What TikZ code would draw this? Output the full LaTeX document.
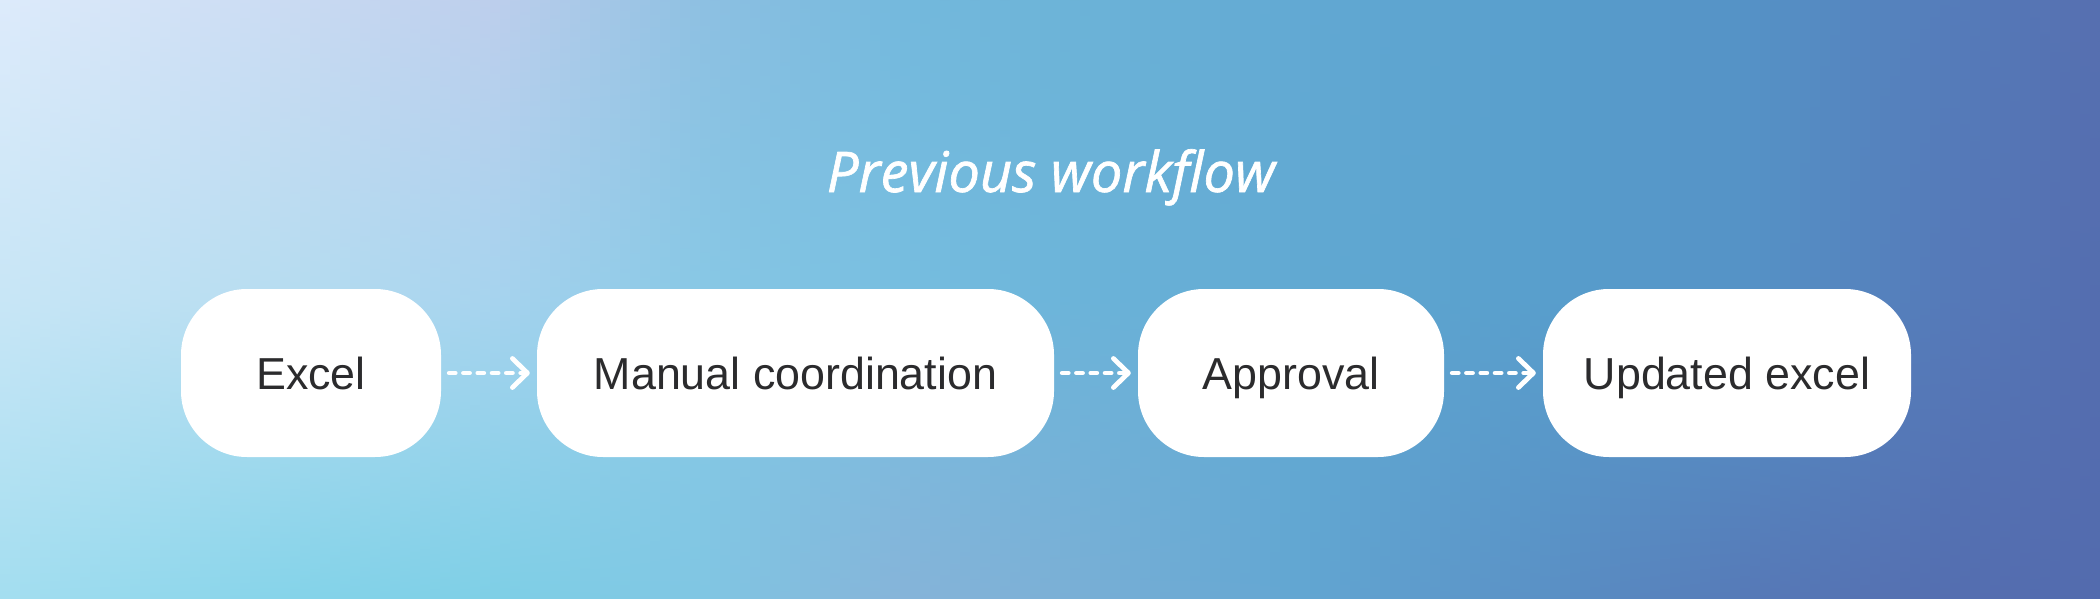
\documentclass[tikz,border=0pt]{standalone}
\usepackage{fontspec}
\setmainfont{Liberation Sans}
\newfontfamily\titlefont{Open Sans}[ItalicFeatures={FakeBold=1.2}]
\usetikzlibrary{arrows.meta}
\definecolor{txt}{HTML}{2B2B2D}
% background key columns: t = top, m = middle, b = bottom
\definecolor{c0t}{HTML}{DDEBFB}\definecolor{c0m}{HTML}{C8E6F6}\definecolor{c0b}{HTML}{A4DEF0}
\definecolor{c1t}{HTML}{C9DAF2}\definecolor{c1m}{HTML}{B5DCF0}\definecolor{c1b}{HTML}{84D3E9}
\definecolor{c2t}{HTML}{BCCEEC}\definecolor{c2m}{HTML}{A6D3EE}\definecolor{c2b}{HTML}{7ECFE6}
\definecolor{c3t}{HTML}{8EC0E2}\definecolor{c3m}{HTML}{88C8E5}\definecolor{c3b}{HTML}{80C6E3}
\definecolor{c4t}{HTML}{74B9DD}\definecolor{c4m}{HTML}{77BEE0}\definecolor{c4b}{HTML}{86B4D9}
\definecolor{c5t}{HTML}{6DB4D8}\definecolor{c5m}{HTML}{6DB5DA}\definecolor{c5b}{HTML}{7CB0D6}
\definecolor{c6t}{HTML}{62A9D3}\definecolor{c6m}{HTML}{61A9D2}\definecolor{c6b}{HTML}{62A6D2}
\definecolor{c7t}{HTML}{589ECC}\definecolor{c7m}{HTML}{589ECC}\definecolor{c7b}{HTML}{5A90C5}
\definecolor{c8t}{HTML}{5592C6}\definecolor{c8m}{HTML}{5592C6}\definecolor{c8b}{HTML}{5679B7}
\definecolor{c9t}{HTML}{557CBA}\definecolor{c9m}{HTML}{5579B8}\definecolor{c9b}{HTML}{546EB0}
\definecolor{c10t}{HTML}{566FB0}\definecolor{c10m}{HTML}{546DAF}\definecolor{c10b}{HTML}{536BAE}
\begin{document}
\begin{tikzpicture}[x=1pt,y=-1pt,
  stepbox/.style={fill=white, rounded corners=66pt, minimum height=168pt, inner sep=0pt,
    text=txt, font=\fontsize{44.8}{50}\selectfont, text height=32.1pt, text depth=0pt},
  flow/.style={draw=white, line width=4.8pt, line cap=round, dash pattern=on 6pt off 8.3pt,
    -{Straight Barb[length=15pt,width=29pt,round]}, shorten <=8pt, shorten >=7pt},
  titletext/.style={text=white, font=\titlefont\itshape\fontsize{56}{62}\selectfont, inner sep=0pt}]
\useasboundingbox (0,0) rectangle (2100,599);
% background gradient built from narrow vertically shaded strips
\foreach \xa/\xb/\i/\j in {0/300/0/1,300/500/1/2,500/700/2/3,700/900/3/4,900/1050/4/5,
    1050/1300/5/6,1300/1550/6/7,1550/1750/7/8,1750/1950/8/9,1950/2100/9/10}{
  \pgfmathtruncatemacro\n{(\xb-\xa)/10}
  \foreach \k in {1,...,\n}{
    \pgfmathsetmacro\p{100-100*(\k-0.5)/\n}
    \colorlet{bgT}{c\i t!\p!c\j t}
    \colorlet{bgM}{c\i m!\p!c\j m}
    \colorlet{bgB}{c\i b!\p!c\j b}
    \pgfmathsetmacro\xs{\xa+10*(\k-1)}
    \fill[top color=bgT, bottom color=bgB, middle color=bgM] (\xs,0) rectangle (\xs+11,599);
  }
}
\node[titletext, anchor=base] (title) at (1051,192) {Previous workflow};
\node[stepbox, minimum width=260pt] (excel) at (311,373) {Excel};
\node[stepbox, minimum width=517pt] (manual) at (795.5,373) {Manual coordination};
\node[stepbox, minimum width=306pt] (approval) at (1291,373) {Approval};
\node[stepbox, minimum width=368pt] (updated) at (1727,373) {Updated excel};
\draw[flow] (excel) -- (manual);
\draw[flow] (manual) -- (approval);
\draw[flow] (approval) -- (updated);
\end{tikzpicture}
\end{document}
